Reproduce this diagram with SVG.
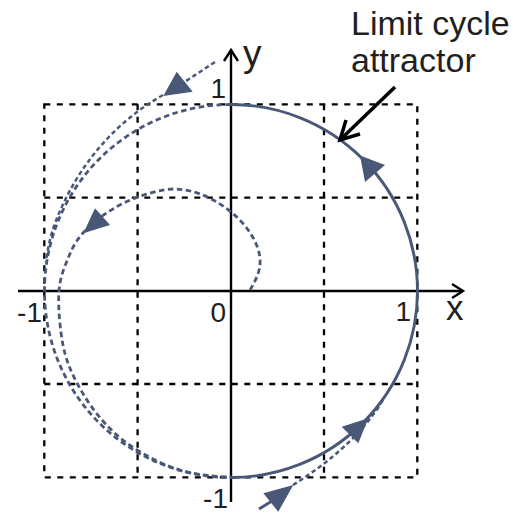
<svg xmlns="http://www.w3.org/2000/svg" width="513" height="514" viewBox="0 0 513 514">
<style>
.grid{fill:none;stroke:#000;stroke-width:2.3;stroke-dasharray:6 6.5}
.axis{fill:none;stroke:#000;stroke-width:2.4}
.solid{fill:none;stroke:#4a5878;stroke-width:2.9}
.dash{fill:none;stroke:#4a5878;stroke-width:2.8;stroke-dasharray:5.5 3.5}
.dash2{fill:none;stroke:#4a5878;stroke-width:2.5;stroke-dasharray:4.5 3}
.head{fill:#4a5878;stroke:none}
.lbl{font-family:"Liberation Sans",Arial,sans-serif;fill:#231f20}
</style>
<rect width="513" height="514" fill="#fff"/>
<g id="grid">
<rect class="grid" x="44.3" y="104.3" width="373" height="373"/>
<line class="grid" x1="137.6" y1="104.3" x2="137.6" y2="477.3"/>
<line class="grid" x1="324" y1="104.3" x2="324" y2="477.3"/>
<line class="grid" x1="44.3" y1="197.6" x2="417.3" y2="197.6"/>
<line class="grid" x1="44.3" y1="384" x2="417.3" y2="384"/>
</g>
<g id="axes">
<line class="axis" x1="18" y1="291" x2="463" y2="291"/>
<polyline class="axis" points="452,284 463,291 452,298"/>
<line class="axis" x1="231" y1="502" x2="231" y2="50"/>
<polyline class="axis" points="224,61 231,50 238,61"/>
</g>
<g id="connectors">
<path id="limit-cycle-right" class="solid" d="M231,104.5 A186.5,186.5 0 0 1 231,477.5"/>
<path id="limit-cycle-left" class="dash" d="M231,104.5 A186.5,186.5 0 0 0 231,477.5"/>
<path id="inner-trajectory" class="dash" d="M250,290 C256,280 261,270 260,259 C259,243 247,225 231,212 C215,199 195,189 173,189 C161.8,189.2 148.8,193.2 138,197 C127.2,200.8 117.2,206 108,212 C98.8,218 89.3,225.8 83,233 C76.7,240.2 73,246.3 69,256 C65,265.7 60.2,276 59,291 C57.8,306 60,329.7 63,345 C66,360.3 70.5,370.5 77,383 C83.5,395.5 92.5,409.2 102,420 C111.5,430.8 121,439.7 134,448 C147,456.3 163.8,465.2 180,470 C196.2,474.8 214,476.8 231,477"/>
<polygon class="head" points="83.3,233.3 95,208.3 110,225"/>
<path id="outer-trajectory-top" class="dash2" d="M215,62 L186,81 M163,95 C111.6,124 74.2,170.5 54,226 A188,188 0 0 0 46,262"/>
<polygon class="head" points="163.3,96 176.7,71.7 192.7,91.7"/>
<path id="outer-trajectory-bottom" class="dash2" d="M293,485 C325,465 356,440 378,408 L384,398"/>
<line x1="259" y1="509" x2="272" y2="501" stroke="#4a5878" stroke-width="3"/>
<polygon class="head" points="293.3,485 263.3,493.3 278.3,511.7"/>
<polygon class="head" points="360,155.5 365,182 385,165"/>
<polygon class="head" points="368.3,418.3 341.7,426.7 358.3,443.3"/>
<g id="pointer">
<line x1="395" y1="87" x2="342" y2="138" stroke="#000" stroke-width="3.5"/>
<polyline points="346,120 340,140 360,134" fill="none" stroke="#000" stroke-width="3.5"/>
</g>
</g>
<g id="labels">
<text class="lbl" x="351" y="35" font-size="34">Limit cycle</text>
<text class="lbl" x="351" y="72" font-size="34">attractor</text>
<text class="lbl" x="243" y="66" font-size="37">y</text>
<text class="lbl" x="446" y="320" font-size="35">x</text>
<text class="lbl" x="226" y="98" font-size="28" text-anchor="end">1</text>
<text class="lbl" x="226" y="322" font-size="28" text-anchor="end">0</text>
<text class="lbl" x="411" y="321" font-size="28" text-anchor="end">1</text>
<text class="lbl" x="42" y="322" font-size="28" text-anchor="end">-1</text>
<text class="lbl" x="228" y="508" font-size="28" text-anchor="end">-1</text>
</g>
</svg>
